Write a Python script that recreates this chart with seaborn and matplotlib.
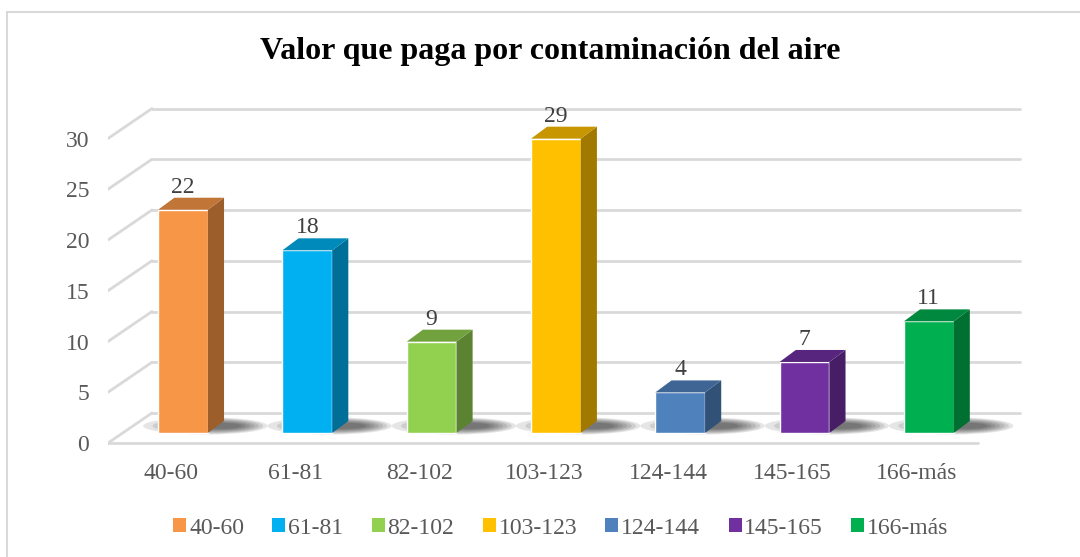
import matplotlib
matplotlib.use("Agg")
import matplotlib.pyplot as plt
import matplotlib.colors as mcolors
from matplotlib.patches import Polygon, Ellipse, Rectangle, Patch
import pandas as pd
import seaborn as sns

# --- Data ---
title = "Valor que paga por contaminación del aire"
categories = ["40-60", "61-81", "82-102", "103-123", "124-144", "145-165", "166-más"]
values = [22, 18, 9, 29, 4, 7, 11]
colors = ["#F79646", "#00B0F0", "#92D050", "#FFC000", "#4F81BD", "#7030A0", "#00B050"]
y_ticks = [0, 5, 10, 15, 20, 25, 30]

# --- Layout (pixel geometry of the reference, 1080x557) ---
W_PX, H_PX = 1080, 557
X0_PX, DX_PX = 183, 124.3      # centre of first bar, px per category
Y0_PX, DY_PX = 433, 10.15      # bar base, px per unit
BAR_W = 0.40
DEPTH_X, DEPTH_Y = 0.13, 1.18  # 3d offset of bar sides
TXT = "#595959"
GRID = "#d9d9d9"
FS = 17


def dx(px):
    return (px - X0_PX) / DX_PX


def dy(px):
    return (Y0_PX - px) / DY_PX


def shade(c, f):
    r, g, b = mcolors.to_rgb(c)
    return (r * f, g * f, b * f)


sns.set_style("white")
plt.rcParams["font.family"] = ["Liberation Serif", "DejaVu Serif"]

df = pd.DataFrame({"rango": categories, "valor": values})

fig = plt.figure(figsize=(W_PX / 100, H_PX / 100), dpi=100)
ax_l, ax_r, ax_t, ax_b = 108, 1040, 95, 455
ax = fig.add_axes([ax_l / W_PX, 1 - ax_b / H_PX, (ax_r - ax_l) / W_PX, (ax_b - ax_t) / H_PX])

# chart frame
fig.patches.append(Rectangle((7 / W_PX, -0.1), 1.2, 1.1 - 12 / H_PX, transform=fig.transFigure,
                             fill=False, edgecolor=GRID, lw=1.5))

# back wall, side wall and floor
y_front = dy(443)
y_back = dy(413)
x_front_l, x_back_l = dx(108), dx(152)
x_front_r, x_back_r = dx(978), dx(1020)
for v in y_ticks:
    ax.plot([x_back_l, x_back_r], [y_back + v, y_back + v], color=GRID, lw=2, zorder=0)
    ax.plot([x_front_l, x_back_l], [y_front + v, y_back + v], color=GRID, lw=2, zorder=0)
ax.plot([x_front_l, x_front_r], [y_front, y_front], color=GRID, lw=2, zorder=0)

# floor shadows (blurred, darkest just right of each bar)
for i in range(len(categories)):
    for k in range(7):
        ax.add_patch(Ellipse((i + 0.18 + 0.02 * k, 0.7), 1.0 - 0.11 * k, 1.7 - 0.18 * k,
                             color="black", alpha=0.1, lw=0, zorder=1))

sns.barplot(data=df, x="rango", y="valor", hue="rango", palette=colors, width=BAR_W,
            legend=False, ax=ax, saturation=1, zorder=3)

# 3d side and top faces + labels
for i, (v, c) in enumerate(zip(values, colors)):
    left, right = i - BAR_W / 2, i + BAR_W / 2
    side = [(right, 0), (right + DEPTH_X, DEPTH_Y), (right + DEPTH_X, v + DEPTH_Y), (right, v)]
    top = [(left, v), (left + DEPTH_X, v + DEPTH_Y), (right + DEPTH_X, v + DEPTH_Y), (right, v)]
    ax.add_patch(Polygon(side, closed=True, color=shade(c, 0.63), lw=0, zorder=3))
    ax.add_patch(Polygon(top, closed=True, color=shade(c, 0.78), lw=0, zorder=3))
    ax.text(i, v + DEPTH_Y + 0.5, str(v), ha="center", va="baseline", fontsize=FS, color="#404040")

ax.set_xlim(dx(ax_l), dx(ax_r))
ax.set_ylim(dy(ax_b), dy(ax_t))
ax.set_xticks([i - 12 / DX_PX for i in range(len(categories))], categories)
ax.set_yticks([v + y_front for v in y_ticks], [str(v) for v in y_ticks])
ax.tick_params(axis="y", length=0, pad=13.5, labelsize=FS, labelcolor=TXT)
ax.tick_params(axis="x", length=0, pad=6, labelsize=FS, labelcolor=TXT)
ax.set_xlabel("")
ax.set_ylabel("")
for s in ax.spines.values():
    s.set_visible(False)

fig.text(550 / W_PX, 1 - 52 / H_PX, title, ha="center", va="center",
         fontsize=23, fontweight="bold", color="black")

handles = [Patch(facecolor=c, edgecolor="none") for c in colors]
fig.legend(handles, categories, loc="center", bbox_to_anchor=(561 / W_PX, 1 - 528 / H_PX),
           ncol=7, frameon=False, fontsize=FS, labelcolor=TXT, handlelength=0.55,
           handleheight=0.55, handletextpad=0.12, columnspacing=1.2)

fig.savefig("out.png", dpi=100)
